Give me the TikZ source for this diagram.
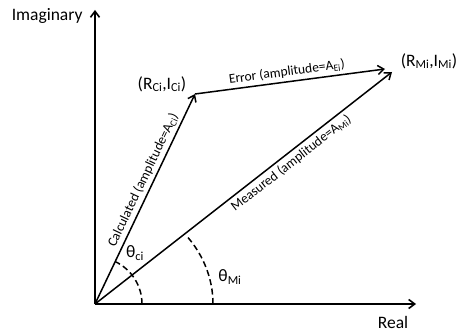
\documentclass[tikz,border=0pt]{standalone}
\usepackage{fontspec}
\setmainfont{Carlito}
\usetikzlibrary{arrows.meta,positioning,calc}

\tikzset{
  axis/.style={line width=1.6pt,-{Straight Barb[length=6pt,width=9pt]}},
  vect/.style={line width=1.5pt,-{Straight Barb[length=6pt,width=9pt]}},
  anglearc/.style={line width=1.5pt,dash pattern=on 6pt off 3.5pt},
  biglabel/.style={font=\fontsize{17.5}{20}\selectfont},
  linelabel/.style={font=\fontsize{13.5}{15}\selectfont,sloped,inner sep=3pt}
}

\begin{document}
\begin{tikzpicture}[x=1pt,y=-1pt]
    \useasboundingbox (0,0) rectangle (457,331);

    % Punkte
    \coordinate (O) at (95,304);
    \coordinate (imtop) at (95,10);
    \coordinate (reend) at (416,304);
    \coordinate (C) at (195,94);
    \coordinate (M) at (392,72);
    \coordinate (Etip) at (385,69);

    % Achsen
    \draw[axis] (O) -- (imtop);
    \draw[axis] (O) -- (reend);
    \node[biglabel,anchor=east] (imlbl) at (86,16) {Imaginary};
    \node[biglabel] (relbl) at (393,322) {Real};

    % Vektoren
    \draw[vect] (O) -- (C) node[linelabel,above,pos=0.57] (calclbl) {Calculated (amplitude=A\textsubscript{Ci})};
    \draw[vect] (O) -- (M) node[linelabel,below,pos=0.64] (measlbl) {Measured (amplitude=A\textsubscript{Mi})};
    \draw[vect] (C) -- (Etip) node[linelabel,above,pos=0.49] (errlbl) {Error (amplitude=A\textsubscript{Ei})};

    \node[biglabel] (clbl) at (162,84) {(R\textsubscript{Ci},I\textsubscript{Ci})};
    \node[biglabel] (mlbl) at (429,61) {(R\textsubscript{Mi},I\textsubscript{Mi})};

    % Winkel
    \draw[anglearc] ($(O)+(47,0)$) arc[start angle=0,end angle=-64.5,x radius=47,y radius=47];
    \draw[anglearc] ($(O)+(118,0)$) arc[start angle=0,end angle=-38,x radius=118,y radius=108];
    \node[biglabel] (thc) at (135,253) {θ\textsubscript{ci}};
    \node[biglabel] (thm) at (230,277) {θ\textsubscript{Mi}};
\end{tikzpicture}
\end{document}
